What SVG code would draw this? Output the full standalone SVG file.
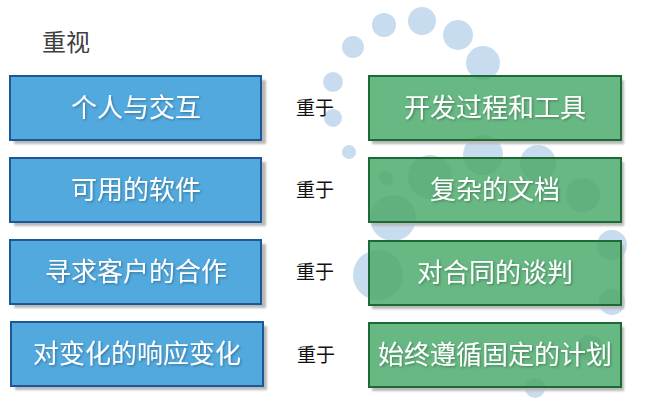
<svg xmlns="http://www.w3.org/2000/svg" width="651" height="403" viewBox="0 0 651 403">
<defs>
<filter id="sh" x="-10%" y="-10%" width="130%" height="140%"><feGaussianBlur stdDeviation="1"/></filter>
<filter id="ts" x="-10%" y="-20%" width="120%" height="150%"><feDropShadow dx="1.2" dy="1.2" stdDeviation="0.8" flood-color="#000" flood-opacity="0.3"/></filter>
<clipPath id="gclip">
<rect x="370" y="77" width="250" height="62"/>
<rect x="370" y="159" width="250" height="62"/>
<rect x="370" y="242" width="250" height="62"/>
<rect x="370" y="324" width="250" height="62"/>
</clipPath>
<g id="dotset">
<circle cx="353" cy="47" r="11"/>
<circle cx="384" cy="25" r="12"/>
<circle cx="422" cy="21" r="14"/>
<circle cx="458" cy="35" r="15"/>
<circle cx="483" cy="63" r="17"/>
<circle cx="333" cy="82" r="10"/>
<circle cx="333" cy="118" r="9"/>
<circle cx="349" cy="152" r="7"/>
<circle cx="483" cy="155" r="20"/>
<circle cx="538" cy="163" r="18"/>
<circle cx="430" cy="177" r="22"/>
<circle cx="386" cy="178" r="7"/>
<circle cx="583" cy="195" r="17"/>
<circle cx="393" cy="218" r="23"/>
<circle cx="612" cy="245" r="15"/>
<circle cx="378" cy="275" r="25"/>
<circle cx="612" cy="302" r="13"/>
<circle cx="590" cy="348" r="13"/>
<circle cx="535" cy="388" r="10"/>
</g>
</defs>
<style>
.shadow{fill:#b8b8b8;filter:url(#sh)}
.blue{fill:#52a9de;stroke:#1d5796;stroke-width:2}
.green{fill:#67b883;stroke:#1e6a34;stroke-width:2}
.bt{font-family:"Noto Sans CJK SC","Noto Sans",sans-serif;font-size:26px;fill:#fff;text-anchor:middle;filter:url(#ts)}
.mid{font-family:"Noto Sans CJK SC","Noto Sans",sans-serif;font-size:19px;fill:#111;text-anchor:middle}
.title{font-family:"Noto Sans CJK SC","Noto Sans",sans-serif;font-size:24px;fill:#404040}
</style>
<rect width="651" height="403" fill="#fff"/>
<text class="title" x="42" y="51">重视</text>
<g id="dots" fill="#c8dcef"><use href="#dotset"/></g>
<g id="shadows">
<rect class="shadow" x="14" y="80" width="252" height="64"/>
<rect class="shadow" x="14" y="162" width="252" height="64"/>
<rect class="shadow" x="14" y="244" width="252" height="64"/>
<rect class="shadow" x="15" y="326" width="252" height="64"/>
<rect class="shadow" x="372" y="80" width="252" height="64"/>
<rect class="shadow" x="372" y="162" width="252" height="64"/>
<rect class="shadow" x="372" y="245" width="252" height="64"/>
<rect class="shadow" x="372" y="327" width="252" height="64"/>
</g>
<g id="l1"><rect class="blue" x="10" y="76" width="251" height="64"/></g>
<g id="l2"><rect class="blue" x="10" y="158" width="251" height="64"/></g>
<g id="l3"><rect class="blue" x="10" y="240" width="251" height="64"/></g>
<g id="l4"><rect class="blue" x="11" y="322" width="252" height="64"/></g>
<g id="r1"><rect class="green" x="369" y="76" width="252" height="64"/></g>
<g id="r2"><rect class="green" x="369" y="158" width="252" height="64"/></g>
<g id="r3"><rect class="green" x="369" y="241" width="252" height="64"/></g>
<g id="r4"><rect class="green" x="369" y="323" width="252" height="64"/></g>
<g id="dots-tint" fill="#1f6a40" fill-opacity="0.09" clip-path="url(#gclip)"><use href="#dotset"/></g>
<g id="texts">
<text class="bt" x="136" y="117">个人与交互</text>
<text class="bt" x="136" y="199">可用的软件</text>
<text class="bt" x="136" y="281">寻求客户的合作</text>
<text class="bt" x="137" y="363">对变化的响应变化</text>
<text class="bt" x="495" y="117">开发过程和工具</text>
<text class="bt" x="495" y="199">复杂的文档</text>
<text class="bt" x="495" y="282">对合同的谈判</text>
<text class="bt" x="495" y="364">始终遵循固定的计划</text>
</g>
<g id="connectors">
<text class="mid" x="315" y="115">重于</text>
<text class="mid" x="315" y="197">重于</text>
<text class="mid" x="315" y="279">重于</text>
<text class="mid" x="316" y="362">重于</text>
</g>
</svg>
